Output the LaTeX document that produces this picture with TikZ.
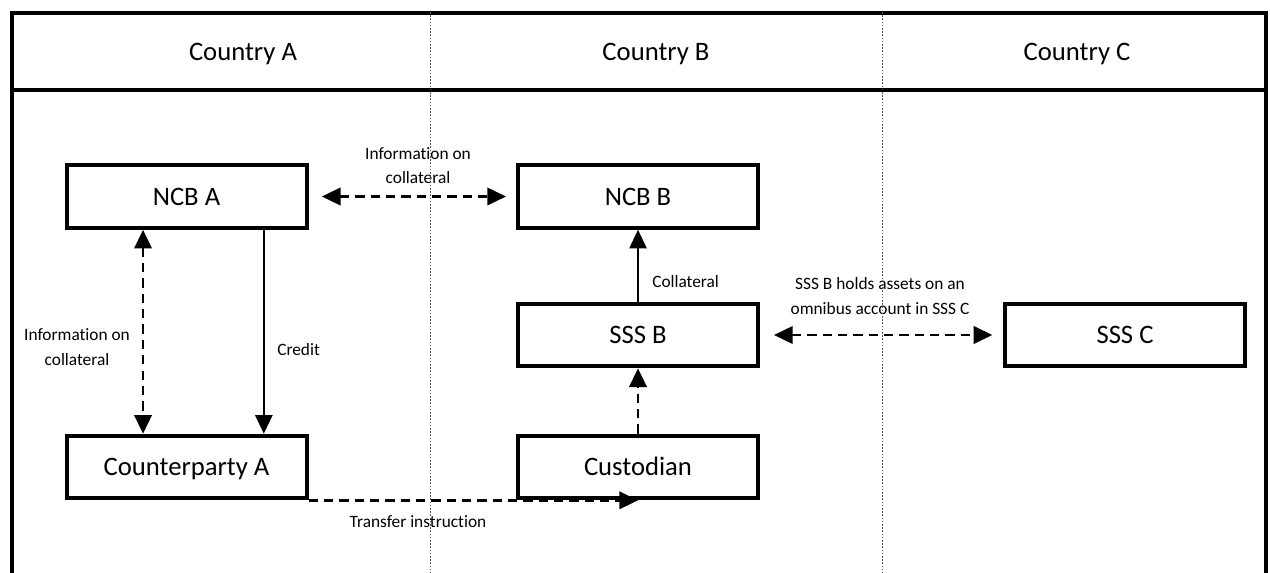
\documentclass[tikz,border=0pt]{standalone}
\usepackage{fontspec}
\setmainfont{Carlito}[RawFeature={-liga;-clig;-calt;-dlig}]
\usetikzlibrary{arrows.meta}
\begin{document}
\begin{tikzpicture}[x=0.75pt, y=-0.75pt,
        >={Triangle[length=14pt, width=13pt]},
        box/.style={draw, line width=3pt, minimum width=180pt, minimum height=47pt,
            inner sep=0pt, text height=16.8pt, text depth=4pt,
            font=\fontsize{20}{24}\selectfont},
        head/.style={inner sep=0pt, text height=16.8pt, text depth=4pt,
            font=\fontsize{20}{24}\selectfont},
        lbl/.style={align=center, inner sep=0pt, font=\fontsize{13}{18.5}\selectfont},
        flow/.style={line width=1.5pt, ->},
        dashedge/.style={line width=2pt, dash pattern=on 7pt off 4.5pt},
        border/.style={line width=0.7pt, black!65, dash pattern=on 1.2pt off 1.2pt}
    ]
    \useasboundingbox (0, 0) rectangle (1270, 573);
    % frame and header
    \draw [line width=3pt] 
        (12, 573) -- (12, 13) -- (1266, 13) -- (1266, 573)
    ;
    \draw [line width=2.5pt] (12, 90) -- (1266, 90);
    \node [head] (countryA) at (243, 52) {Country A};
    \node [head] (countryB) at (656, 52) {Country B};
    \node [head] (countryC) at (1077, 52) {Country C};
    % institutions
    \node [box] (ncbA) at (186.5, 196.5) {NCB A};
    \node [box] (ncbB) at (638, 196.5) {NCB B};
    \node [box] (sssB) at (638, 335) {SSS B};
    \node [box] (sssC) at (1125, 335) {SSS C};
    \node [box] (cptyA) at (186.5, 467) {Counterparty A};
    \node [box] (cust) at (638, 467) {Custodian};
    % flows
    \draw [dashedge, <->, shorten <=10pt, shorten >=7.5pt] (ncbA) -- (ncbB);
    \draw [dashedge, <->] 
        ([xshift=-32.6pt]ncbA.south) -- ([xshift=-32.6pt]cptyA.north)
    ;
    \draw [flow] ([xshift=58pt]ncbA.south) -- ([xshift=58pt]cptyA.north);
    \draw [flow] (sssB) -- (ncbB);
    \draw [dashedge, ->] (cust) -- (sssB);
    \draw [dashedge, <->, shorten <=10.5pt, shorten >=8pt] (sssB) -- (sssC);
    \draw [dashedge, ->] (cptyA.south east) -- (cust.south);
    % labels
    \node [lbl] (infoNcb) at (418, 165.5) {Information on\\collateral};
    \node [lbl] (infoCpty) at (77, 347) {Information on\\collateral};
    \node [lbl, anchor=west] (credit) at (277, 350) {Credit};
    \node [lbl, anchor=west] (coll) at (652, 282) {Collateral};
    \node [lbl] (omnibus) at (880, 296) {SSS B holds assets on an\\omnibus account in SSS C};
    \node [lbl] (transfer) at (418, 522) {Transfer instruction};
    % country borders
    \draw [border] 
        (430, 12) -- (430, 573) 
        (882, 12) -- (882, 573)
    ;
\end{tikzpicture}
\end{document}
